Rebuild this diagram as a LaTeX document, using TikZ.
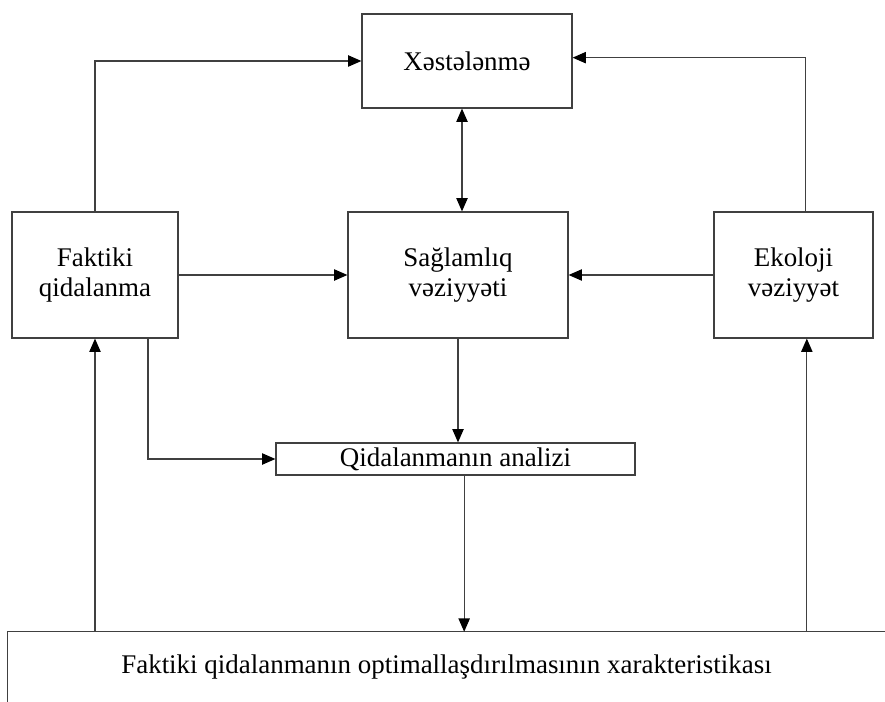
\documentclass[tikz,border=0pt]{standalone}
\usepackage{fontspec}
\setmainfont{Liberation Serif}
\usetikzlibrary{arrows.meta,positioning}

\tikzset{
  box/.style={draw=black!75, line width=1pt, align=center, inner sep=0pt},
  link/.style={draw=black!75, line width=1pt, ->, >={Triangle[length=0.4cm,width=0.34cm,color=black]}}
}

\begin{document}
\begin{tikzpicture}[x=0.03cm, y=-0.03cm, font=\fontsize{23}{26}\selectfont]
  \useasboundingbox (0,0) rectangle (885,702);
  \node (xes) [box, minimum width=6.3cm, minimum height=2.82cm] at (467,61) {Xəstələnmə};
  \node (sag) [box, minimum width=6.6cm, minimum height=3.78cm] at (458,275) {Sağlamlıq\\vəziyyəti};
  \node (fak) [box, minimum width=4.98cm, minimum height=3.78cm] at (95,275) {Faktiki\\qidalanma};
  \node (eko) [box, minimum width=4.77cm, minimum height=3.78cm] at (793.5,275) {Ekoloji\\vəziyyət};
  \node (ana) [box, minimum width=10.77cm, minimum height=0.96cm] at (455.5,459) {Qidalanmanın analizi};
  \node (xar) [minimum width=26.31cm, minimum height=2.1cm, inner sep=0pt] at (446.5,667)
    {Faktiki qidalanmanın optimallaşdırılmasının xarakteristikası};
  \draw[draw=black!75, line width=1pt] (xar.south west) |- (xar.north east);
  \coordinate (ekob) at ([xshift=0.4cm]eko.south);
  \coordinate (anab) at ([xshift=0.26cm]ana.south);
  \coordinate (sagn) at ([xshift=0.12cm]sag.north);

  \draw[link] (fak.north) |- (xes.west);
  \draw[link] ([xshift=0.36cm]eko.north) |- ([yshift=0.1cm]xes.east);
  \draw[link, <->] (xes.south -| sagn) -- (sagn);
  \draw[link] (fak.east) -- (sag.west);
  \draw[link] (eko.west) -- (sag.east);
  \draw[link] (sag.south) -- (sag.south |- ana.north);
  \draw[link] ([xshift=1.59cm]fak.south) |- (ana.west);
  \draw[link] (anab) -- (anab |- xar.north);
  \draw[link] (xar.north -| fak.south) -- (fak.south);
  \draw[link] (xar.north -| ekob) -- (ekob);
\end{tikzpicture}
\end{document}
